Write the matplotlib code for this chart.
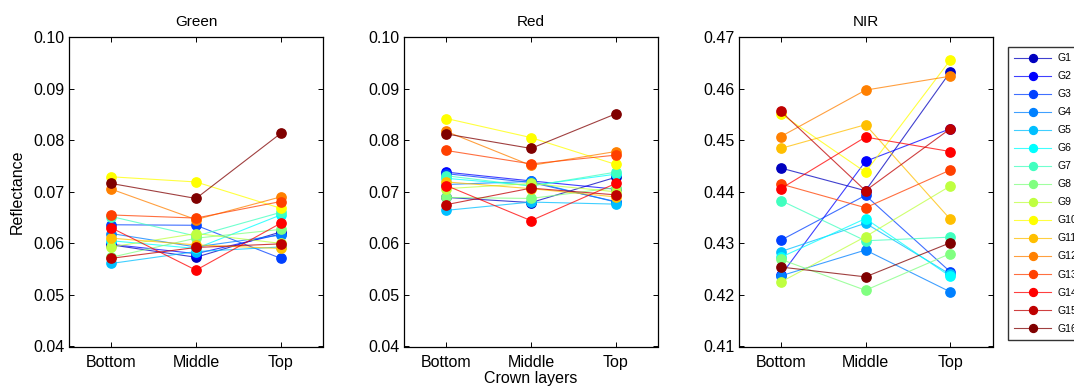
import numpy as np
import matplotlib
matplotlib.use("Agg")
import matplotlib.pyplot as plt
from matplotlib.ticker import FormatStrFormatter

plt.rcParams['font.family'] = ['Liberation Sans', 'DejaVu Sans']

layers = ['Bottom', 'Middle', 'Top']
groups = ['G%d' % (i + 1) for i in range(16)]
band_names = ['Green', 'Red', 'NIR']

# reflectance per group (G1..G16): Bottom, Middle, Top
green = [
    [0.0597, 0.0573, 0.0622],
    [0.0598, 0.0580, 0.0618],
    [0.0636, 0.0635, 0.0571],
    [0.0619, 0.0593, 0.0616],
    [0.0561, 0.0584, 0.0593],
    [0.0605, 0.0590, 0.0655],
    [0.0652, 0.0614, 0.0660],
    [0.0573, 0.0610, 0.0627],
    [0.0593, 0.0619, 0.0600],
    [0.0729, 0.0719, 0.0668],
    [0.0610, 0.0597, 0.0590],
    [0.0705, 0.0646, 0.0690],
    [0.0655, 0.0649, 0.0681],
    [0.0630, 0.0548, 0.0639],
    [0.0571, 0.0592, 0.0599],
    [0.0716, 0.0687, 0.0813],
]
red = [
    [0.0689, 0.0679, 0.0728],
    [0.0738, 0.0721, 0.0705],
    [0.0735, 0.0718, 0.0681],
    [0.0714, 0.0720, 0.0680],
    [0.0664, 0.0680, 0.0676],
    [0.0726, 0.0712, 0.0734],
    [0.0731, 0.0711, 0.0738],
    [0.0689, 0.0687, 0.0708],
    [0.0706, 0.0716, 0.0700],
    [0.0842, 0.0805, 0.0753],
    [0.0719, 0.0706, 0.0690],
    [0.0817, 0.0751, 0.0778],
    [0.0780, 0.0754, 0.0771],
    [0.0712, 0.0644, 0.0716],
    [0.0675, 0.0707, 0.0694],
    [0.0812, 0.0784, 0.0851],
]
nir = [
    [0.4446, 0.4402, 0.4632],
    [0.4238, 0.4459, 0.4522],
    [0.4306, 0.4393, 0.4245],
    [0.4237, 0.4287, 0.4206],
    [0.4284, 0.4339, 0.4240],
    [0.4273, 0.4348, 0.4236],
    [0.4383, 0.4305, 0.4312],
    [0.4269, 0.4209, 0.4280],
    [0.4225, 0.4313, 0.4411],
    [0.4551, 0.4438, 0.4655],
    [0.4484, 0.4530, 0.4347],
    [0.4507, 0.4597, 0.4624],
    [0.4415, 0.4369, 0.4442],
    [0.4406, 0.4506, 0.4478],
    [0.4556, 0.4402, 0.4522],
    [0.4254, 0.4235, 0.4301],
]
band_data = [green, red, nir]
ylims = [(0.04, 0.10), (0.04, 0.10), (0.41, 0.47)]


def matlab_jet(n):
    t = np.arange(1, n + 1) / n
    r = np.clip(1.5 - np.abs(4 * t - 3), 0, 1)
    g = np.clip(1.5 - np.abs(4 * t - 2), 0, 1)
    b = np.clip(1.5 - np.abs(4 * t - 1), 0, 1)
    return np.stack([r, g, b], axis=1)


colors = matlab_jet(len(groups))
W, H = 1074, 387
fig = plt.figure(figsize=(W / 100, H / 100), dpi=100)

lefts = [69, 404, 738.5]
x = np.arange(1, len(layers) + 1)
axes = []
for k, left in enumerate(lefts):
    ax = fig.add_axes([left / W, (H - 346.5) / H, 254 / W, 309.5 / H])
    axes.append(ax)
    for i, name in enumerate(groups):
        c = colors[i]
        ax.plot(x, band_data[k][i], '-o', color=(*c, 0.75), lw=0.8,
                markersize=6.7, markerfacecolor=c, markeredgecolor=c,
                label=name)
    ax.set_xlim(0.5, 3.5)
    ax.set_ylim(*ylims[k])
    ax.set_yticks(np.linspace(ylims[k][0], ylims[k][1], 7))
    ax.yaxis.set_major_formatter(FormatStrFormatter('%.2f'))
    ax.set_xticks(x)
    ax.set_xticklabels(layers)
    ax.tick_params(direction='in', top=True, right=True, length=3.5,
                   width=0.7, labelsize=11.5)
    ax.tick_params(axis='x', pad=6)
    ax.tick_params(axis='y', pad=3)
    for s in ax.spines.values():
        s.set_linewidth(0.9)
    ax.set_title(band_names[k], fontsize=11, pad=8)

axes[0].set_ylabel('Reflectance', fontsize=11.5, labelpad=6)
axes[1].set_xlabel('Crown layers', fontsize=11.5, labelpad=1)

handles, labels = axes[2].get_legend_handles_labels()
leg = fig.legend(handles, labels, loc='upper left',
                 bbox_to_anchor=(1007.5 / W, (H - 47) / H),
                 fontsize=7.5, frameon=True, fancybox=False,
                 borderaxespad=0, handlelength=3.6, markerscale=0.85,
                 labelspacing=0.77, borderpad=0.6, handletextpad=0.6)
leg.get_frame().set_edgecolor('black')
leg.get_frame().set_linewidth(1.0)

fig.savefig('out.png', dpi=100)
